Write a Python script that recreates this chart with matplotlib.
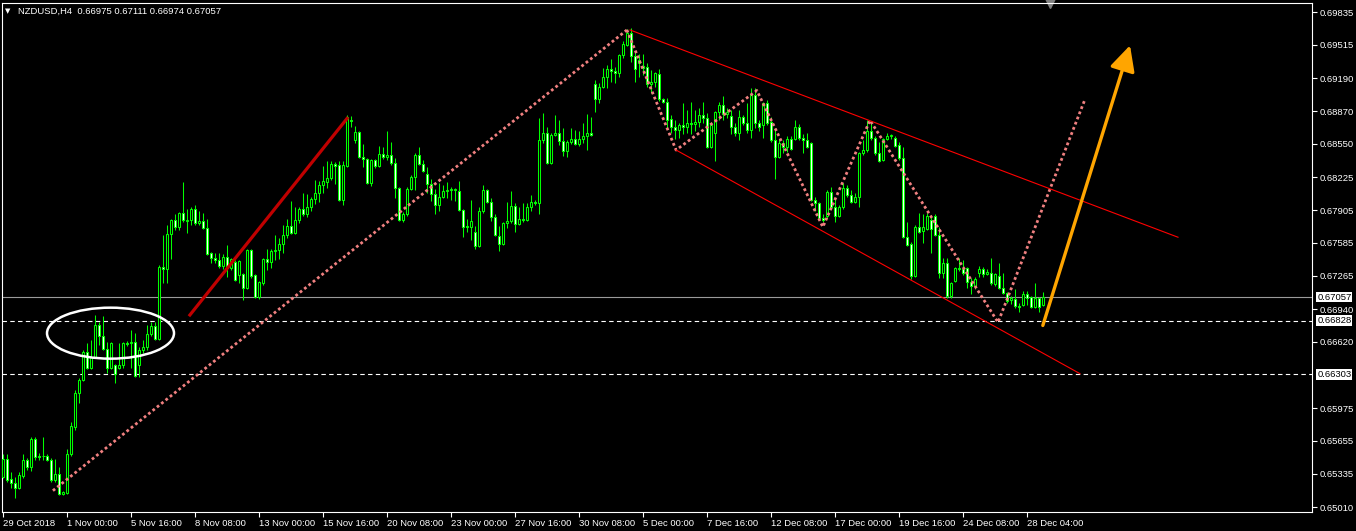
import matplotlib
matplotlib.use('Agg')
import matplotlib.pyplot as plt
import matplotlib.transforms as mtransforms
from matplotlib.patches import Ellipse
import numpy as np

# NZDUSD H4 candles, prices in pips (x 0.0001), bar 0 = 29 Oct 2018 08:00
open_pips = [
    6530, 6548, 6528, 6524, 6520, 6531, 6547, 6540, 6567, 6551,
    6551, 6551, 6547, 6527, 6533, 6514, 6515, 6553, 6579, 6612,
    6625, 6652, 6637, 6647, 6678, 6668, 6655, 6637, 6639, 6637,
    6639, 6661, 6661, 6662, 6639, 6654, 6657, 6670, 6677, 6665,
    6735, 6733, 6767, 6781, 6774, 6788, 6780, 6781, 6792, 6778,
    6780, 6773, 6749, 6744, 6742, 6736, 6745, 6734, 6740, 6727,
    6728, 6715, 6752, 6727, 6706, 6719, 6743, 6740, 6751, 6752,
    6757, 6766, 6775, 6768, 6781, 6792, 6787, 6793, 6801, 6807,
    6815, 6818, 6822, 6835, 6834, 6800, 6833, 6878, 6859, 6867,
    6842, 6840, 6817, 6839, 6833, 6845, 6842, 6844, 6836, 6812,
    6781, 6787, 6811, 6823, 6844, 6835, 6826, 6816, 6806, 6795,
    6803, 6809, 6810, 6810, 6809, 6791, 6775, 6774, 6769, 6755,
    6790, 6810, 6798, 6784, 6765, 6757, 6778, 6780, 6794, 6777,
    6782, 6781, 6793, 6798, 6797, 6859, 6866, 6836, 6864, 6866,
    6858, 6848, 6857, 6860, 6855, 6860, 6863, 6866, 6913, 6899,
    6910, 6920, 6928, 6926, 6924, 6942, 6951, 6963, 6941, 6934,
    6931, 6930, 6913, 6915, 6923, 6899, 6896, 6879, 6871, 6869,
    6873, 6871, 6875, 6874, 6876, 6883, 6880, 6852, 6866, 6886,
    6893, 6884, 6882, 6871, 6866, 6881, 6875, 6869, 6903, 6875,
    6873, 6895, 6876, 6859, 6842, 6856, 6852, 6860, 6860, 6871,
    6861, 6859, 6856, 6800, 6797, 6783, 6785, 6808, 6793, 6785,
    6793, 6812, 6805, 6798, 6803, 6846, 6849, 6868, 6861, 6846,
    6839, 6860, 6863, 6861, 6854, 6841, 6764, 6757, 6726, 6774,
    6770, 6772, 6781, 6785, 6766, 6729, 6739, 6707, 6721, 6734,
    6733, 6734, 6720, 6716, 6729, 6733, 6728, 6729, 6718, 6726,
    6715, 6710, 6703, 6704, 6697, 6698, 6709, 6706, 6696, 6705,
    6697.5]
high_pips = [
    6553, 6553, 6535, 6530, 6535, 6553, 6549, 6569, 6569, 6554,
    6569, 6553, 6549, 6548, 6540, 6517, 6558, 6584, 6615, 6627,
    6654, 6661, 6664, 6688, 6681, 6687, 6662, 6662, 6640, 6661,
    6662, 6663, 6674, 6671, 6657, 6664, 6678, 6681, 6681, 6737,
    6766, 6776, 6782, 6787, 6789, 6818, 6792, 6793, 6795, 6790,
    6788, 6782, 6750, 6749, 6749, 6748, 6756, 6744, 6742, 6742,
    6729, 6753, 6753, 6728, 6721, 6744, 6753, 6753, 6766, 6763,
    6776, 6782, 6799, 6793, 6793, 6807, 6806, 6803, 6820, 6819,
    6833, 6838, 6838, 6837, 6838, 6838, 6883, 6882, 6872, 6868,
    6855, 6841, 6840, 6840, 6853, 6852, 6868, 6857, 6841, 6813,
    6789, 6813, 6825, 6846, 6852, 6839, 6832, 6821, 6811, 6817,
    6815, 6818, 6813, 6812, 6819, 6792, 6782, 6800, 6775, 6793,
    6815, 6811, 6802, 6787, 6775, 6779, 6798, 6809, 6797, 6793,
    6797, 6797, 6805, 6800, 6880, 6885, 6871, 6866, 6883, 6878,
    6870, 6859, 6870, 6869, 6868, 6875, 6884, 6881, 6917, 6914,
    6929, 6932, 6938, 6930, 6943, 6955, 6967, 6968, 6946, 6943,
    6943, 6934, 6927, 6925, 6928, 6900, 6900, 6883, 6878, 6875,
    6895, 6888, 6896, 6888, 6890, 6896, 6885, 6876, 6887, 6896,
    6902, 6890, 6888, 6875, 6888, 6883, 6895, 6909, 6909, 6878,
    6896, 6898, 6881, 6870, 6860, 6859, 6863, 6863, 6878, 6874,
    6865, 6866, 6857, 6803, 6798, 6787, 6810, 6813, 6802, 6795,
    6817, 6815, 6810, 6807, 6847, 6859, 6878, 6876, 6863, 6857,
    6861, 6866, 6865, 6863, 6857, 6852, 6779, 6759, 6776, 6788,
    6787, 6788, 6785, 6787, 6774, 6744, 6744, 6720, 6735, 6744,
    6742, 6735, 6724, 6725, 6736, 6735, 6733, 6744, 6729, 6739,
    6729, 6711, 6707, 6714, 6700, 6712, 6712, 6707, 6719, 6706,
    6711.1]
low_pips = [
    6529, 6525, 6520, 6510, 6519, 6529, 6537, 6536, 6547, 6547,
    6547, 6546, 6525, 6525, 6513, 6513, 6514, 6551, 6576, 6602,
    6624, 6636, 6636, 6646, 6659, 6654, 6632, 6636, 6622, 6636,
    6637, 6658, 6637, 6628, 6628, 6651, 6654, 6668, 6664, 6664,
    6719, 6719, 6743, 6771, 6771, 6779, 6768, 6776, 6776, 6776,
    6772, 6747, 6739, 6739, 6734, 6733, 6725, 6732, 6721, 6719,
    6703, 6714, 6724, 6705, 6704, 6717, 6732, 6734, 6742, 6743,
    6749, 6763, 6767, 6767, 6778, 6785, 6784, 6790, 6796, 6798,
    6807, 6812, 6820, 6816, 6799, 6795, 6832, 6871, 6856, 6841,
    6832, 6816, 6814, 6831, 6832, 6840, 6839, 6834, 6802, 6780,
    6779, 6785, 6810, 6810, 6834, 6828, 6807, 6799, 6787, 6790,
    6802, 6802, 6800, 6799, 6790, 6764, 6769, 6761, 6753, 6754,
    6788, 6797, 6780, 6765, 6751, 6756, 6773, 6778, 6769, 6776,
    6779, 6780, 6790, 6795, 6787, 6856, 6835, 6835, 6863, 6854,
    6843, 6842, 6855, 6854, 6853, 6856, 6849, 6863, 6886, 6895,
    6909, 6909, 6915, 6914, 6920, 6939, 6950, 6935, 6915, 6920,
    6922, 6910, 6905, 6910, 6897, 6895, 6870, 6866, 6860, 6861,
    6865, 6866, 6865, 6868, 6871, 6875, 6851, 6851, 6838, 6878,
    6878, 6880, 6865, 6863, 6859, 6873, 6866, 6861, 6870, 6868,
    6861, 6873, 6857, 6821, 6841, 6846, 6847, 6849, 6859, 6859,
    6846, 6851, 6799, 6790, 6782, 6779, 6783, 6792, 6779, 6784,
    6792, 6803, 6797, 6797, 6793, 6844, 6847, 6859, 6844, 6837,
    6838, 6859, 6860, 6852, 6839, 6763, 6755, 6723, 6725, 6768,
    6758, 6771, 6749, 6765, 6724, 6724, 6705, 6705, 6720, 6731,
    6727, 6715, 6709, 6714, 6725, 6725, 6727, 6717, 6716, 6714,
    6709, 6700, 6699, 6695, 6691, 6697, 6698, 6695, 6695, 6691,
    6697.4]
close_pips = [
    6548, 6527, 6524, 6520, 6532, 6547, 6540, 6567, 6550, 6550,
    6551, 6547, 6527, 6533, 6514, 6516, 6553, 6580, 6612, 6625,
    6652, 6637, 6647, 6678, 6668, 6655, 6637, 6661, 6631, 6639,
    6661, 6660, 6662, 6629, 6654, 6657, 6670, 6677, 6665, 6735,
    6733, 6767, 6781, 6774, 6788, 6781, 6781, 6792, 6778, 6780,
    6773, 6748, 6744, 6742, 6736, 6745, 6734, 6743, 6722, 6741,
    6715, 6752, 6726, 6706, 6720, 6743, 6740, 6751, 6752, 6757,
    6766, 6775, 6768, 6781, 6792, 6787, 6793, 6801, 6807, 6815,
    6819, 6822, 6835, 6833, 6800, 6834, 6881, 6877, 6867, 6842,
    6840, 6817, 6839, 6833, 6845, 6842, 6844, 6836, 6812, 6781,
    6787, 6811, 6823, 6844, 6835, 6829, 6816, 6806, 6795, 6803,
    6809, 6810, 6811, 6811, 6791, 6774, 6774, 6780, 6755, 6790,
    6810, 6798, 6784, 6766, 6757, 6778, 6780, 6794, 6777, 6782,
    6781, 6793, 6798, 6797, 6859, 6866, 6836, 6864, 6866, 6858,
    6848, 6857, 6860, 6855, 6860, 6863, 6866, 6864, 6899, 6910,
    6920, 6928, 6926, 6924, 6942, 6952, 6963, 6941, 6928, 6937,
    6929, 6913, 6915, 6924, 6899, 6896, 6878, 6871, 6869, 6873,
    6871, 6875, 6874, 6876, 6883, 6880, 6852, 6873, 6886, 6893,
    6884, 6886, 6871, 6866, 6881, 6875, 6869, 6903, 6875, 6871,
    6895, 6875, 6859, 6842, 6856, 6852, 6860, 6850, 6871, 6861,
    6859, 6852, 6800, 6797, 6783, 6781, 6808, 6793, 6785, 6793,
    6812, 6805, 6798, 6803, 6846, 6849, 6868, 6861, 6846, 6838,
    6860, 6863, 6864, 6853, 6841, 6764, 6756, 6726, 6774, 6769,
    6774, 6785, 6772, 6766, 6729, 6739, 6707, 6719, 6734, 6733,
    6729, 6720, 6716, 6723, 6733, 6728, 6730, 6719, 6728, 6715,
    6710, 6702, 6705, 6697, 6696, 6709, 6705, 6696, 6705, 6696,
    6705.7]

# x axis labels (every 16 bars)
x_tick_bars = [0, 16, 32, 48, 64, 80, 96, 112, 128, 144, 160, 176, 192, 208, 224, 240, 256]
x_tick_labels = ['29 Oct 2018', '1 Nov 00:00', '5 Nov 16:00', '8 Nov 08:00', '13 Nov 00:00',
                 '15 Nov 16:00', '20 Nov 08:00', '23 Nov 00:00', '27 Nov 16:00', '30 Nov 08:00',
                 '5 Dec 00:00', '7 Dec 16:00', '12 Dec 08:00', '17 Dec 00:00', '19 Dec 16:00',
                 '24 Dec 08:00', '28 Dec 04:00']
y_ticks = [0.69835, 0.69515, 0.69190, 0.68870, 0.68550, 0.68225, 0.67905, 0.67585,
           0.67265, 0.66940, 0.66620, 0.65975, 0.65655, 0.65335, 0.65010]
bid_price = 0.67057
level_prices = [0.66828, 0.66303]

# drawn objects (bar index, price)
trend_line = ([46.4, 86.2], [0.6687, 0.6881])
dotted_up = ([12.4, 155.9], [0.6517, 0.6966])
zigzag_x = [155.9, 168.2, 188.4, 204.9, 216.7, 248.7, 270.4]
zigzag_y = [0.6966, 0.6849, 0.6907, 0.6774, 0.6878, 0.6681, 0.6898]
channel_top = ([156.7, 293.7], [0.6966, 0.6764])
channel_bottom = ([168.2, 269.2], [0.6849, 0.6631])
arrow_from = (259.9, 0.6678)
arrow_to = (281.7, 0.6951)
ellipse_center = (26.8, 0.66705)

o = np.array(open_pips) / 10000
h = np.array(high_pips) / 10000
l = np.array(low_pips) / 10000
c = np.array(close_pips) / 10000
idx = np.arange(len(c))
h = np.maximum(h, np.maximum(o, c))
l = np.minimum(l, np.minimum(o, c))

W, H = 1356, 531
fig = plt.figure(figsize=(W / 100, H / 100), dpi=100, facecolor='black')
ax = fig.add_axes([2 / W, 19 / H, 1310 / W, 509 / H])
ax.set_facecolor('black')
ax.set_xlim(-0.33, 327.2)
ax.set_ylim(0.64962, 0.69923)

green = '#00ff00'
# price lines
ax.axhline(bid_price, color='#9a9a9a', lw=0.8, zorder=1)
for p in level_prices:
    ax.axhline(p, color='white', lw=0.8, ls=(0, (4, 3)), zorder=1)

# candles
ax.vlines(idx, l, h, color=green, lw=0.75, zorder=2)
bot = np.minimum(o, c)
hgt = np.abs(c - o)
up = c > o
dn = c < o
fl = c == o
ax.bar(idx[up], hgt[up], bottom=bot[up], width=0.5, facecolor='black',
       edgecolor=green, lw=0.75, zorder=3)
ax.bar(idx[dn], hgt[dn], bottom=bot[dn], width=0.5, facecolor='white',
       edgecolor=green, lw=0.75, zorder=3)
ax.hlines(c[fl], idx[fl] - 0.4, idx[fl] + 0.4, color=green, lw=0.75, zorder=3)

# analysis objects
pink = '#f08080'
ax.plot(*trend_line, color='#c00000', lw=2.3, solid_capstyle='butt', zorder=4)
ax.plot(*dotted_up, color=pink, lw=2.0, ls=(0, (1, 1)), dash_capstyle='butt', zorder=4)
ax.plot(zigzag_x, zigzag_y, color=pink, lw=2.0, ls=(0, (1, 1)), dash_capstyle='butt', zorder=4)
ax.plot(*channel_top, color='#ff0000', lw=0.8, zorder=4)
ax.plot(*channel_bottom, color='#ff0000', lw=0.8, zorder=4)
ax.add_patch(Ellipse(ellipse_center, 31.75, 0.00497, fill=False, edgecolor='white',
                     lw=1.8, zorder=5))
ax.annotate('', xy=arrow_to, xytext=arrow_from,
            arrowprops=dict(arrowstyle='-|>,head_length=0.7,head_width=0.35',
                            color='#ffa500', lw=2.4, mutation_scale=22,
                            shrinkA=0, shrinkB=0), zorder=5)

# axes styling
for s in ax.spines.values():
    s.set_color('white')
    s.set_linewidth(0.8)
font = ['Liberation Sans', 'DejaVu Sans']
ax.set_xticks(x_tick_bars)
ax.set_xticklabels(x_tick_labels, ha='left', family=font, fontsize=6.8, color='white')
ax.yaxis.tick_right()
ax.set_yticks(y_ticks)
ax.set_yticklabels(['%.5f' % v for v in y_ticks], family=font, fontsize=6.8, color='white')
ax.tick_params(axis='both', direction='out', length=3.5, width=0.8, color='white', pad=1.5)
ax.tick_params(axis='y', pad=2)

tr = mtransforms.blended_transform_factory(ax.transAxes, ax.transData)
for p in [bid_price] + level_prices:
    ax.text(1.004, p, '%.5f' % p, transform=tr, ha='left', va='center', fontsize=6.8,
            family=font, color='black', clip_on=False,
            bbox=dict(facecolor='white', edgecolor='none', pad=0.6))

# header
fig.text(5 / W, 1 - 11 / H, '\u25bc', color='white', fontsize=5, family='DejaVu Sans',
         va='center', ha='left')
fig.text(18 / W, 1 - 11 / H, 'NZDUSD,H4  %.5f %.5f %.5f %.5f' % (o[-1], h[-1], l[-1], c[-1]),
         color='white', fontsize=6.8, family=font, va='center', ha='left')
# chart shift marker
ax.plot([261.7], [1.0], marker='v', color='#808080', markersize=7,
        transform=mtransforms.blended_transform_factory(ax.transData, ax.transAxes),
        clip_on=False)

fig.savefig('out.png', dpi=100, facecolor='black')
